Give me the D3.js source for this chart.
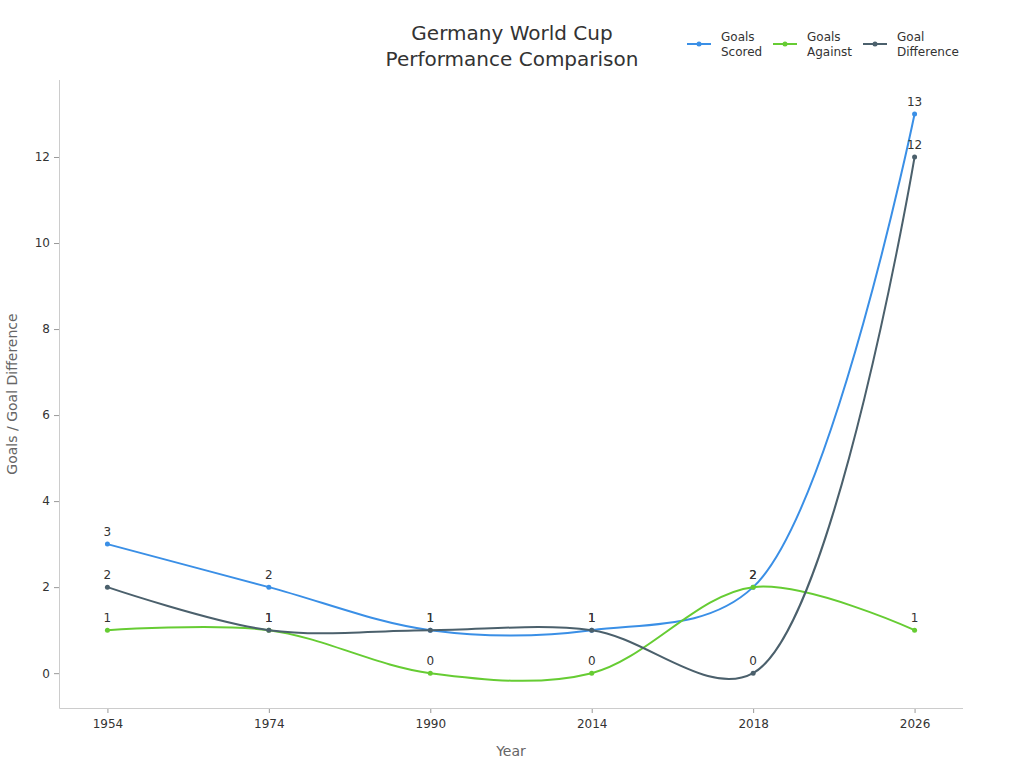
<!DOCTYPE html>
<html>
<head>
<meta charset="utf-8">
<script src="https://cdn.jsdelivr.net/npm/d3@7"></script>
<style>
  body { margin: 0; background: #fff; }
  svg { font-family: 'DejaVu Sans', sans-serif; }
</style>
</head>
<body>
<div id="chart"></div>
<script>
// Data.
var years = ['1954', '1974', '1990', '2014', '2018', '2026'];
var goalsScored = [3, 2, 1, 1, 2, 13];
var goalsAgainst = [1, 1, 0, 0, 2, 1];
var goalDifference = [2, 1, 1, 1, 0, 12];
var seriesNames = [['Goals', 'Scored'], ['Goals', 'Against'], ['Goal', 'Difference']];
var yTicks = [0, 2, 4, 6, 8, 10, 12];

var COLORS = ['#3a8fe6', '#66cc33', '#4b606c'];

var WIDTH = 1024;
var HEIGHT = 768;
var LEFT = 59, RIGHT = 963, TOP = 80, BOTTOM = 708;

function main() {
  var svg = d3.select('#chart').append('svg')
    .attr('width', WIDTH)
    .attr('height', HEIGHT);

  var x = d3.scalePoint().domain(years).range([LEFT, RIGHT]).padding(0.3);
  var y = d3.scaleLinear().domain([-0.81, 13.79]).range([BOTTOM, TOP]);

  // Axes
  var xAxis = svg.append('g')
    .attr('transform', 'translate(0,' + BOTTOM + ')')
    .call(d3.axisBottom(x).tickSizeOuter(0).tickSize(5).tickPadding(6));
  var yAxis = svg.append('g')
    .attr('transform', 'translate(' + LEFT + ',0)')
    .call(d3.axisLeft(y).tickValues(yTicks).tickSizeOuter(0).tickSize(5).tickPadding(4));
  [xAxis, yAxis].forEach(function(a) {
    a.select('.domain').remove();
    a.selectAll('.tick line').attr('stroke', '#999');
    a.selectAll('.tick text').attr('fill', '#333').style('font-size', '12px')
      .style('font-family', "'DejaVu Sans', sans-serif");
  });
  svg.append('path')
    .attr('d', 'M' + (LEFT + 0.5) + ',' + TOP + 'V' + (BOTTOM + 0.5) + 'H' + RIGHT)
    .attr('fill', 'none')
    .attr('stroke', '#ccc');

  // Axis titles
  svg.append('text')
    .attr('x', (LEFT + RIGHT) / 2).attr('y', 756)
    .attr('text-anchor', 'middle')
    .attr('fill', '#666').style('font-size', '14px')
    .text('Year');
  svg.append('text')
    .attr('transform', 'translate(17,' + (TOP + BOTTOM) / 2 + ') rotate(-90)')
    .attr('text-anchor', 'middle')
    .attr('fill', '#666').style('font-size', '14px')
    .text('Goals / Goal Difference');

  // Title
  var title = svg.append('text')
    .attr('text-anchor', 'middle')
    .attr('fill', '#333').style('font-size', '20px');
  title.append('tspan').attr('x', 512).attr('y', 40).text('Germany World Cup');
  title.append('tspan').attr('x', 512).attr('y', 66).text('Performance Comparison');

  var allSeries = [goalsScored, goalsAgainst, goalDifference];
  var line = d3.line()
    .x(function(d, i) { return x(years[i]); })
    .y(function(d) { return y(d); })
    .curve(d3.curveCatmullRom.alpha(0.5));

  allSeries.forEach(function(values, s) {
    var g = svg.append('g');
    g.append('path')
      .datum(values)
      .attr('fill', 'none')
      .attr('stroke', COLORS[s])
      .attr('stroke-width', 2)
      .attr('d', line);
    g.selectAll('circle')
      .data(values)
    .enter().append('circle')
      .attr('cx', function(d, i) { return x(years[i]); })
      .attr('cy', function(d) { return y(d); })
      .attr('r', 2.5)
      .attr('fill', COLORS[s]);
    g.selectAll('text')
      .data(values)
    .enter().append('text')
      .attr('x', function(d, i) { return x(years[i]); })
      .attr('y', function(d) { return y(d) - 8; })
      .attr('text-anchor', 'middle')
      .attr('fill', '#333')
      .style('font-size', '12px')
      .text(function(d) { return d; });
  });

  // Legend
  var legendX = [687, 773, 863];
  seriesNames.forEach(function(name, s) {
    var lg = svg.append('g').attr('transform', 'translate(' + legendX[s] + ',44)');
    lg.append('line')
      .attr('x1', 0).attr('x2', 24).attr('y1', 0).attr('y2', 0)
      .attr('stroke', COLORS[s]).attr('stroke-width', 2);
    lg.append('circle').attr('cx', 12).attr('cy', 0).attr('r', 2.5).attr('fill', COLORS[s]);
    var t = lg.append('text').attr('fill', '#333').style('font-size', '12px');
    t.append('tspan').attr('x', 34).attr('y', -3).text(name[0]);
    t.append('tspan').attr('x', 34).attr('y', 12).text(name[1]);
  });
}
main();
</script>
</body>
</html>
